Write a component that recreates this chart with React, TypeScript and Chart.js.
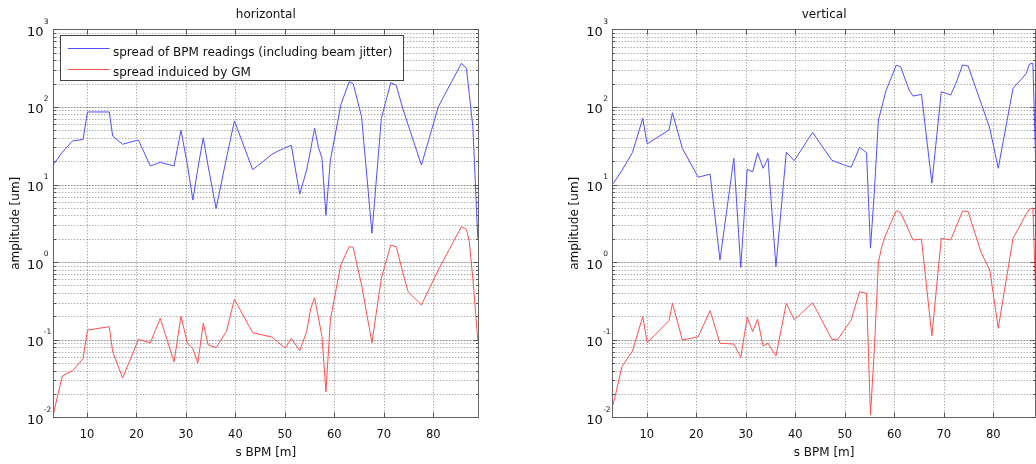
import React, { useEffect, useRef } from 'react';
import { Chart, registerables } from 'chart.js';

Chart.register(...registerables);

// BPM positions along the beamline [m]
const sPos = [
  3.2, 5.0, 7.1, 9.2, 10.1, 14.5, 15.2, 17.2, 20.4, 22.8,
  24.8, 27.6, 29.0, 30.3, 31.4, 32.4, 33.5, 34.5, 36.1, 38.2,
  39.8, 43.5, 47.4, 48.6, 49.7, 50.2, 51.3, 53.0, 54.4, 55.2,
  56.0, 56.8, 57.5, 58.3, 59.2, 60.4, 61.3, 63.0, 63.8, 65.5,
  67.6, 69.5, 71.4, 72.5, 73.8, 74.9, 77.6, 79.3, 81.0, 84.0,
  85.7, 86.7, 87.3, 88.0, 89.0,
];

// horizontal plane
const horizBPM = [
  18, 26, 36.5, 38, 86, 86, 42, 33, 37.5, 17.3,
  19.3, 17.3, 50, 18, 6.3, 16, 40, 17, 4.9, 22,
  66, 15.5, 24.5, 27, 29, 30, 32, 7.5, 15.4, 28,
  53, 30, 21.8, 4.0, 20.7, 52, 106, 211, 200, 75,
  2.35, 71, 205, 190, 97, 59, 17.8, 42, 100, 229,
  365, 314, 141, 55.6, 2.0,
];
const horizGM = [
  0.011, 0.034, 0.040, 0.057, 0.133, 0.147, 0.070, 0.032, 0.101, 0.091,
  0.189, 0.052, 0.20, 0.090, 0.077, 0.050, 0.163, 0.0855, 0.079, 0.129,
  0.332, 0.123, 0.108, 0.093, 0.081, 0.080, 0.104, 0.072, 0.127, 0.25,
  0.348, 0.19, 0.11, 0.0214, 0.18, 0.46, 0.92, 1.58, 1.55, 0.507,
  0.0915, 0.618, 1.66, 1.58, 0.75, 0.416, 0.28, 0.47, 0.79, 1.8,
  2.86, 2.65, 1.8, 0.61, 0.099,
];

// vertical plane
const vertBPM = [
  10.2, 15.2, 25.7, 71, 33.3, 50.4, 84, 29.2, 12.4, 13.6,
  1.06, 21.8, 0.857, 15.7, 14.6, 25.7, 16.2, 21.8, 0.873, 26,
  20.3, 47, 20.5, 19.2, 18, 17.5, 16.7, 30.1, 25.7, 1.51,
  8.5, 68, 100, 160, 221, 345, 328, 165, 138, 145,
  10.4, 157, 142, 205, 347, 337, 109, 53, 16.2, 174,
  229, 271, 357, 365, 2.0,
];
const vertGM = [
  0.0143, 0.045, 0.071, 0.198, 0.0915, 0.176, 0.294, 0.099, 0.109, 0.237,
  0.09, 0.088, 0.059, 0.195, 0.127, 0.183, 0.083, 0.09, 0.0617, 0.294,
  0.18, 0.3, 0.101, 0.101, 0.128, 0.142, 0.18, 0.416, 0.396, 0.0107,
  0.08, 1.0, 1.6, 2.27, 3.07, 4.6, 4.33, 2.5, 1.93, 1.97,
  0.112, 2.03, 1.93, 2.86, 4.55, 4.5, 1.3, 0.79, 0.14, 2.03,
  3.2, 4.25, 4.8, 5.0, 0.05,
];

const xTicks = [10, 20, 30, 40, 50, 60, 70, 80];
const yDecades = [-2, -1, 0, 1, 2, 3];
const legendLabels = [
  'spread of BPM readings (including beam jitter)',
  'spread induiced by GM',
];
const xTitle = 's BPM [m]';
const yTitle = 'amplitude [um]';

const FONT = '"DejaVu Sans", sans-serif';
const BLUE = '#5050ff';
const RED = '#ff5050';
const TEXT = '#111';

function seg(ctx: CanvasRenderingContext2D, x1: number, y1: number, x2: number, y2: number) {
  ctx.beginPath();
  ctx.moveTo(x1, y1);
  ctx.lineTo(x2, y2);
  ctx.stroke();
}

function makePlugin(title: string, showLegend: boolean) {
  return {
    id: 'matlabAxes',
    beforeDatasetsDraw(chart: any) {
      const ctx: CanvasRenderingContext2D = chart.ctx;
      const { left, right, top, bottom } = chart.chartArea;
      const xs = chart.scales.x;
      const ys = chart.scales.y;
      ctx.save();
      ctx.lineWidth = 1;
      // decade lines: faint solid underlay
      ctx.strokeStyle = 'rgba(0,0,0,0.15)';
      for (const d of yDecades) {
        const py = Math.round(ys.getPixelForValue(Math.pow(10, d))) + 0.5;
        if (py <= top + 1 || py >= bottom - 1) continue;
        seg(ctx, left, py, right, py);
      }
      ctx.strokeStyle = 'rgba(0,0,0,0.45)';
      ctx.setLineDash([1, 2]);
      for (const t of xTicks) {
        const px = Math.round(xs.getPixelForValue(t)) + 0.5;
        seg(ctx, px, top, px, bottom);
      }
      for (let d = -2; d < 3; d++) {
        for (let m = 1; m <= 9; m++) {
          const py = Math.round(ys.getPixelForValue(m * Math.pow(10, d))) + 0.5;
          if (py <= top + 1 || py >= bottom - 1) continue;
          seg(ctx, left, py, right, py);
        }
      }
      ctx.restore();
    },
    afterDatasetsDraw(chart: any) {
      const ctx: CanvasRenderingContext2D = chart.ctx;
      const { left, right, top, bottom } = chart.chartArea;
      const xs = chart.scales.x;
      const ys = chart.scales.y;
      ctx.save();
      // box
      ctx.lineWidth = 1;
      ctx.strokeStyle = '#666';
      const bl = Math.floor(left) + 0.5;
      const br = Math.floor(right) + 0.5;
      const bt = Math.floor(top) + 0.5;
      const bb = Math.floor(bottom) + 0.5;
      ctx.strokeRect(bl, bt, br - bl, bb - bt);
      // ticks
      ctx.strokeStyle = '#555';
      for (const t of xTicks) {
        const px = Math.round(xs.getPixelForValue(t)) + 0.5;
        seg(ctx, px, bb, px, bb - 5);
        seg(ctx, px, bt, px, bt + 5);
      }
      for (let d = -2; d <= 3; d++) {
        for (let m = 1; m <= 9; m++) {
          if (d === 3 && m > 1) break;
          const py = Math.round(ys.getPixelForValue(m * Math.pow(10, d))) + 0.5;
          const len = m === 1 ? 5 : 2.5;
          seg(ctx, bl, py, bl + len, py);
          seg(ctx, br, py, br - len, py);
        }
      }
      // x tick labels
      ctx.fillStyle = TEXT;
      ctx.font = `11.5px ${FONT}`;
      ctx.textAlign = 'center';
      ctx.textBaseline = 'alphabetic';
      for (const t of xTicks) {
        ctx.fillText(String(t), xs.getPixelForValue(t), bottom + 20.4);
      }
      // y tick labels 10^n
      ctx.textAlign = 'left';
      for (const d of yDecades) {
        const py = ys.getPixelForValue(Math.pow(10, d));
        ctx.font = `13px ${FONT}`;
        const x0 = left - 26.4;
        ctx.fillText('10', x0, py + 6.5);
        const w = ctx.measureText('10').width;
        ctx.font = `7.5px ${FONT}`;
        ctx.fillText(String(d), x0 + w + 0.3, py - 5.8);
      }
      // axis titles
      ctx.font = `12px ${FONT}`;
      ctx.textAlign = 'center';
      ctx.fillText(xTitle, (left + right) / 2, bottom + 38.5);
      ctx.save();
      ctx.translate(left - 37.5, (top + bottom) / 2);
      ctx.rotate(-Math.PI / 2);
      ctx.textBaseline = 'middle';
      ctx.fillText(yTitle, 0, 0);
      ctx.restore();
      // title
      ctx.fillText(title, (left + right) / 2, top - 11);
      // legend
      if (showLegend) {
        const lx = Math.floor(left + 6.7) + 0.5;
        const ly = Math.floor(top + 5.7) + 0.5;
        const lw = 343;
        const lh = 45;
        ctx.fillStyle = '#fff';
        ctx.fillRect(lx, ly, lw, lh);
        ctx.strokeStyle = '#444';
        ctx.lineWidth = 1;
        ctx.strokeRect(lx, ly, lw, lh);
        const colors = [BLUE, RED];
        const lineY = [12.5, 33];
        const textY = [20.2, 40.7];
        ctx.font = `12px ${FONT}`;
        ctx.textAlign = 'left';
        legendLabels.forEach((lab, i) => {
          ctx.strokeStyle = colors[i];
          ctx.lineWidth = 1;
          const y = Math.round(ly + lineY[i]) + 0.5;
          seg(ctx, lx + 7.5, y, lx + 49, y);
          ctx.fillStyle = TEXT;
          ctx.fillText(lab, lx + 52.5, ly + textY[i]);
        });
      }
      ctx.restore();
    },
  };
}

function makeConfig(title: string, bpm: number[], gm: number[], xmin: number, xmax: number,
  pad: { left: number; right: number; top: number; bottom: number }, showLegend: boolean): any {
  return {
    type: 'line',
    data: {
      datasets: [
        {
          label: legendLabels[1],
          data: sPos.map((x, i) => ({ x, y: gm[i] })),
          borderColor: RED,
          borderWidth: 1,
          pointRadius: 0,
          tension: 0,
          fill: false,
        },
        {
          label: legendLabels[0],
          data: sPos.map((x, i) => ({ x, y: bpm[i] })),
          borderColor: BLUE,
          borderWidth: 1,
          pointRadius: 0,
          tension: 0,
          fill: false,
        },
      ],
    },
    options: {
      animation: false,
      responsive: false,
      devicePixelRatio: 1,
      events: [],
      layout: { padding: pad },
      scales: {
        x: { type: 'linear', min: xmin, max: xmax, display: false },
        y: { type: 'logarithmic', min: 0.01, max: 1000, display: false },
      },
      plugins: {
        legend: { display: false },
        title: { display: false },
        tooltip: { enabled: false },
      },
    },
    plugins: [makePlugin(title, showLegend)],
  };
}

export default function App() {
  const leftRef = useRef<HTMLCanvasElement>(null);
  const rightRef = useRef<HTMLCanvasElement>(null);

  useEffect(() => {
    const c1 = new Chart(leftRef.current as HTMLCanvasElement,
      makeConfig('horizontal', horizBPM, horizGM, 3.19, 89.1,
        { left: 53.3, right: 41.7, top: 29.3, bottom: 46.7 }, true));
    const c2 = new Chart(rightRef.current as HTMLCanvasElement,
      makeConfig('vertical', vertBPM, vertGM, 3.13, 88.53,
        { left: 52.7, right: 44.5, top: 29.3, bottom: 46.7 }, false));
    return () => {
      c1.destroy();
      c2.destroy();
    };
  }, []);

  return (
    <div style={{ position: 'fixed', left: 0, top: 0, width: 1036, height: 464, overflow: 'hidden', background: '#fff' }}>
      <canvas ref={leftRef} width={520} height={464}
        style={{ position: 'absolute', left: 0, top: 0, width: 520, height: 464 }} />
      <canvas ref={rightRef} width={520} height={464}
        style={{ position: 'absolute', left: 560, top: 0, width: 520, height: 464 }} />
    </div>
  );
}
